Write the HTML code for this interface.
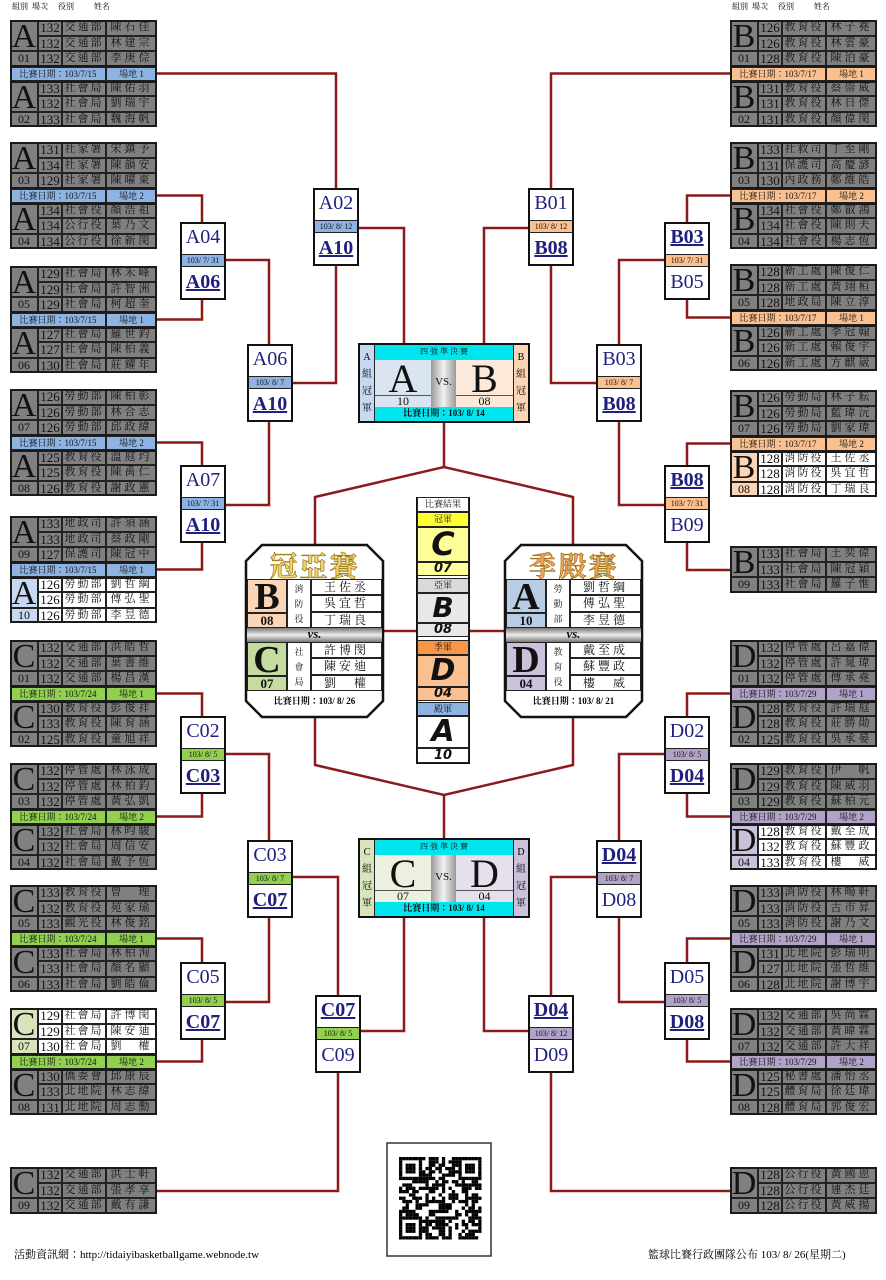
<!DOCTYPE html>
<html><head><meta charset="utf-8">
<style>
body{margin:0;background:#fff;}
#c{position:relative;width:886px;height:1280px;overflow:hidden;font-family:"Liberation Serif","Noto Serif CJK TC",serif;}
.a{position:absolute;box-sizing:border-box;}
.cl{position:absolute;box-sizing:border-box;border:1px solid #222;text-align:center;overflow:hidden;white-space:nowrap;color:#111;}
svg{position:absolute;left:0;top:0;}
</style></head><body><div id="c">
<svg width="886" height="1280" id="ln"></svg>
</div>
<script>
var C=document.getElementById('c');var R=15.5;
function d(x,y,w,h,html,st){var e=document.createElement('div');e.className='cl';e.style.cssText='left:'+x+'px;top:'+y+'px;width:'+w+'px;height:'+h+'px;'+(st||'');e.innerHTML=html;C.appendChild(e);return e;}
function raw(x,y,w,h,html,st){var e=document.createElement('div');e.className='a';e.style.cssText='left:'+x+'px;top:'+y+'px;width:'+w+'px;height:'+h+'px;'+(st||'');e.innerHTML=html;C.appendChild(e);return e;}
var COL={A:['#8db3e2','#c6d9f0'],B:['#fac090','#fbd5b5'],C:['#92d050','#d7e4bc'],D:['#b3a2c7','#ccc1da']};
function team(x,y,s,win){var p=s.split('|');var L=p[0],n=p[1];var g=win?'#fff':'#808080';var lc=win?COL[L][1]:'#808080';
 d(x,y,28,2*R,L,'background:'+lc+';font-size:34px;line-height:31px;');
 d(x,y+2*R,28,R,n,'background:'+lc+';font-size:12px;line-height:13px;');
 for(var i=0;i<3;i++){var r=p[2+i].split(',');var yy=y+i*R;
  d(x+28,yy,24,R,r[0],'background:'+g+';font-size:13px;line-height:13px;');
  d(x+52,yy,44,R,r[1],'background:'+g+';font-size:11px;line-height:13px;letter-spacing:2px;');
  d(x+96,yy,51,R,r[2],'background:'+g+';font-size:11px;line-height:13px;letter-spacing:3px;');}
 raw(x,y,147,3*R,'','border:2px solid #1a1a1a;');}
function bar(x,y,L,date,v){var c=COL[L][0];
 d(x,y,96,14,'比賽日期：'+date,'background:'+c+';font-size:9px;line-height:12px;');
 d(x+96,y,51,14,'場地 '+v,'background:'+c+';font-size:9px;line-height:12px;');}
function pair(x,y,L,date,v,t1,t2,w1,w2){team(x,y,t1,w1);bar(x,y+3*R,L,date,v);team(x,y+3*R+14,t2,w2);raw(x,y,147,6*R+14,'','border:2px solid #1a1a1a;');}
function mbox(x,y,L,top,date,bot,tw,bw){var w=46;
 var st=function(b){return 'background:#fff;border:none;font-size:20px;line-height:30px;color:#1f1f80;'+(b?'font-weight:bold;text-decoration:underline;':'');};
 d(x,y,w,32,top,st(tw));d(x,y+32,w,13,date,'background:'+COL[L][0]+';border:none;border-top:1px solid #222;border-bottom:1px solid #222;font-size:8px;line-height:11px;');
 d(x,y+45,w,33,bot,st(bw));raw(x,y,w,78,'','border:2px solid #111;');}
var lines=[];function pl(pts){lines.push(pts);}
var Lx=10,Rx=730;
var T={
A01:'A|01|132,交通部,陳石佳|132,交通部,林建宗|132,交通部,李庚倧',
A02:'A|02|133,社會局,陳佑羽|132,社會局,劉瑞宇|133,社會局,魏海帆',
A03:'A|03|131,社家署,宋鎮予|134,社家署,陳韻安|129,社家署,陳曜東',
A04:'A|04|134,社會役,顏浩祖|134,公行役,葉乃文|134,公行役,徐新閔',
A05:'A|05|129,社會局,林禾峰|129,社會局,許智洲|129,社會局,柯超奎',
A06:'A|06|127,社會局,羅世鈞|127,社會局,陳柏義|130,社會局,莊耀年',
A07:'A|07|126,勞動部,陳柏彰|126,勞動部,林合志|126,勞動部,邱政緯',
A08:'A|08|125,教育役,溫庭均|125,教育役,陳禹仁|126,教育役,謝政憲',
A09:'A|09|133,地政司,許須涵|133,地政司,蔡政剛|127,保護司,陳冠中',
A10:'A|10|126,勞動部,劉哲綱|126,勞動部,傅弘聖|126,勞動部,李昱德',
B01:'B|01|126,教育役,林子堯|126,教育役,林雲豪|128,教育役,陳泊豪',
B02:'B|02|131,教育役,蔡崇威|131,教育役,林日傑|131,教育役,顏偉閔',
B03:'B|03|133,社救司,丁至剛|131,保護司,高慶諺|130,內政務,鄭維皓',
B04:'B|04|134,社會役,鄭叡鴻|134,社會役,陳則夫|134,社會役,楊志恆',
B05:'B|05|128,新工處,陳俊仁|128,新工處,黃翊桓|128,地政局,陳立淳',
B06:'B|06|126,新工處,李冠翰|126,新工處,賴俊宇|126,新工處,方麒崴',
B07:'B|07|126,勞動局,林子耘|126,勞動局,藍瑋沅|126,勞動局,劉家瑋',
B08:'B|08|128,消防役,王佐丞|128,消防役,吳宜哲|128,消防役,丁瑞良',
B09:'B|09|133,社會局,王奕偉|133,社會局,陳冠穎|133,社會局,羅子惟',
C01:'C|01|132,交通部,洪皓哲|132,交通部,葉書維|132,交通部,楊昌漢',
C02:'C|02|130,教育役,彭俊祥|133,教育役,陳育涵|125,教育役,童旭祥',
C03:'C|03|132,停管處,林泳成|132,停管處,林柏鈞|132,停管處,黃弘凱',
C04:'C|04|132,社會局,林昀駿|132,社會局,周信安|132,社會局,戴予恆',
C05:'C|05|133,教育役,曾　理|132,教育役,苑家瑜|133,觀光役,林俊銘',
C06:'C|06|133,社會局,林柏洵|133,社會局,顏名顯|133,社會局,劉皓倫',
C07:'C|07|129,社會局,許博閔|129,社會局,陳安迪|130,社會局,劉　權',
C08:'C|08|130,僑委會,邱康辰|133,北地院,林志緯|131,北地院,周志勳',
C09:'C|09|132,交通部,洪士軒|132,交通部,張孝享|132,交通部,戴有謙',
D01:'D|01|132,停管處,呂嘉偉|132,停管處,許晁瑋|132,停管處,傅承堯',
D02:'D|02|128,教育役,許瑞庭|128,教育役,莊勝勛|125,教育役,吳承晏',
D03:'D|03|129,教育役,伊　帆|129,教育役,陳威羽|129,教育役,蘇柏元',
D04:'D|04|128,教育役,戴至成|132,教育役,蘇豐政|133,教育役,樓　威',
D05:'D|05|133,消防役,林暘軒|133,消防役,古市昇|133,消防役,謝乃文',
D06:'D|06|131,北地院,彭瑞明|127,北地院,張哲維|128,北地院,謝博宇',
D07:'D|07|132,交通部,吳尚霖|132,交通部,黃暐霖|132,交通部,許大祥',
D08:'D|08|125,秘書處,潘怡丞|125,體育局,徐廷瑋|128,體育局,郭俊宏',
D09:'D|09|128,公行役,黃國恩|128,公行役,連杰廷|128,公行役,黃威揚'};
var B=53.5;
var LA=[20,142,266,389,516],LC=[640,763,885,1008],RB=[20,142,264,390],RD=[640,763,885,1008];
pair(Lx,LA[0],'A','103/7/15',1,T.A01,T.A02);pair(Lx,LA[1],'A','103/7/15',2,T.A03,T.A04);
pair(Lx,LA[2],'A','103/7/15',1,T.A05,T.A06);pair(Lx,LA[3],'A','103/7/15',2,T.A07,T.A08);
pair(Lx,LA[4],'A','103/7/15',1,T.A09,T.A10,0,1);
pair(Lx,LC[0],'C','103/7/24',1,T.C01,T.C02);pair(Lx,LC[1],'C','103/7/24',2,T.C03,T.C04);
pair(Lx,LC[2],'C','103/7/24',1,T.C05,T.C06);pair(Lx,LC[3],'C','103/7/24',2,T.C07,T.C08,1,0);
team(Lx,1167,T.C09);
pair(Rx,RB[0],'B','103/7/17',1,T.B01,T.B02);pair(Rx,RB[1],'B','103/7/17',2,T.B03,T.B04);
pair(Rx,RB[2],'B','103/7/17',1,T.B05,T.B06);pair(Rx,RB[3],'B','103/7/17',2,T.B07,T.B08,0,1);
team(Rx,546,T.B09);
pair(Rx,RD[0],'D','103/7/29',1,T.D01,T.D02);pair(Rx,RD[1],'D','103/7/29',2,T.D03,T.D04,0,1);
pair(Rx,RD[2],'D','103/7/29',1,T.D05,T.D06);pair(Rx,RD[3],'D','103/7/29',2,T.D07,T.D08);
team(Rx,1167,T.D09);
mbox(180,222,'A','A04','103/ 7/ 31','A06',0,1);
mbox(313,188,'A','A02','103/ 8/ 12','A10',0,1);
mbox(247,344,'A','A06','103/ 8/ 7','A10',0,1);
mbox(180,465,'A','A07','103/ 7/ 31','A10',0,1);
mbox(180,716,'C','C02','103/ 8/ 5','C03',0,1);
mbox(247,840,'C','C03','103/ 8/ 7','C07',0,1);
mbox(180,962,'C','C05','103/ 8/ 5','C07',0,1);
mbox(315,995,'C','C07','103/ 8/ 5','C09',1,0);
mbox(528,188,'B','B01','103/ 8/ 12','B08',0,1);
mbox(664,222,'B','B03','103/ 7/ 31','B05',1,0);
mbox(596,344,'B','B03','103/ 8/ 7','B08',0,1);
mbox(664,465,'B','B08','103/ 7/ 31','B09',1,0);
mbox(664,716,'D','D02','103/ 8/ 5','D04',0,1);
mbox(596,840,'D','D04','103/ 8/ 7','D08',1,0);
mbox(664,962,'D','D05','103/ 8/ 5','D08',0,1);
mbox(528,995,'D','D04','103/ 8/ 12','D09',1,0);
var lx=157,rx=730;
pl([[lx,LA[0]+B],[336,LA[0]+B],[336,188]]);
pl([[lx,LA[1]+B],[202,LA[1]+B],[202,222]]);
pl([[lx,LA[2]+B],[202,LA[2]+B],[202,300]]);
pl([[226,260],[269,260],[269,344]]);
pl([[293,383],[336,383],[336,266]]);
pl([[359,228],[404,228],[404,343]]);
pl([[lx,LA[3]+B],[202,LA[3]+B],[202,465]]);
pl([[lx,LA[4]+B],[202,LA[4]+B],[202,543]]);
pl([[226,505],[269,505],[269,422]]);
pl([[lx,LC[0]+B],[202,LC[0]+B],[202,716]]);
pl([[lx,LC[1]+B],[202,LC[1]+B],[202,794]]);
pl([[226,754],[269,754],[269,840]]);
pl([[lx,LC[2]+B],[202,LC[2]+B],[202,962]]);
pl([[lx,LC[3]+B],[202,LC[3]+B],[202,1040]]);
pl([[226,1002],[269,1002],[269,918]]);
pl([[293,877],[338,877],[338,995]]);
pl([[lx,1191],[338,1191],[338,1073]]);
pl([[361,1031],[404,1031],[404,917]]);
pl([[rx,RB[0]+B],[551,RB[0]+B],[551,188]]);
pl([[528,228],[484,228],[484,343]]);
pl([[rx,RB[1]+B],[687,RB[1]+B],[687,222]]);
pl([[rx,RB[2]+B],[687,RB[2]+B],[687,300]]);
pl([[664,260],[619,260],[619,344]]);
pl([[596,383],[551,383],[551,266]]);
pl([[rx,RB[3]+B],[687,RB[3]+B],[687,465]]);
pl([[rx,570],[687,570],[687,543]]);
pl([[664,505],[619,505],[619,422]]);
pl([[rx,RD[0]+B],[687,RD[0]+B],[687,716]]);
pl([[rx,RD[1]+B],[687,RD[1]+B],[687,794]]);
pl([[664,754],[619,754],[619,840]]);
pl([[rx,RD[2]+B],[687,RD[2]+B],[687,962]]);
pl([[rx,RD[3]+B],[687,RD[3]+B],[687,1040]]);
pl([[664,1002],[619,1002],[619,918]]);
pl([[596,877],[551,877],[551,995]]);
pl([[rx,1191],[551,1191],[551,1073]]);
pl([[528,1031],[484,1031],[484,917]]);
pl([[444,422],[444,467]]);pl([[315,548],[315,497],[444,467],[573,497],[573,548]]);
pl([[315,715],[315,765],[444,795],[573,765],[573,715]]);pl([[444,795],[444,838]]);
pl([[380,631],[418,631]]);pl([[468,631],[507,631]]);
var svg=document.getElementById('ln');var s='';
lines.forEach(function(p){s+='<polyline fill="none" stroke="#8b1a1a" stroke-width="2.5" points="'+p.map(function(q){return q.join(',')}).join(' ')+'"/>';});
svg.innerHTML=s;
function semi(y,L1,n1,L2,n2,b1,b2,s1,s2){
 raw(358,y,172,80,'','background:#fff;border:2px solid #111;');
 raw(360,y+2,15,76,'<div style="font-size:10px;line-height:17px;text-align:center;padding-top:4px">'+L1+'<br>組<br>冠<br>軍</div>','background:'+s1+';border-right:1px solid #222;');
 raw(513,y+2,15,76,'<div style="font-size:10px;line-height:17px;text-align:center;padding-top:4px">'+L2+'<br>組<br>冠<br>軍</div>','background:'+s2+';border-left:1px solid #222;');
 d(375,y+2,138,15,'四 強 準 決 賽','background:#00e5ee;border:none;font-size:8px;line-height:14px;');
 d(375,y+17,56,35,L1,'background:'+b1+';border:none;font-size:40px;line-height:38px;');
 d(375,y+52,56,12,n1,'background:'+b1+';border:none;border-top:1px solid #555;font-size:12px;line-height:11px;');
 d(431,y+17,25,47,'VS.','background:linear-gradient(90deg,#999,#f2f2f2,#999);border:none;font-size:11px;line-height:45px;');
 d(456,y+17,57,35,L2,'background:'+b2+';border:none;font-size:40px;line-height:38px;');
 d(456,y+52,57,12,n2,'background:'+b2+';border:none;border-top:1px solid #555;font-size:12px;line-height:11px;');
 d(375,y+64,138,14,'比賽日期：103/ 8/ 14','background:#00e5ee;border:none;font-size:9px;line-height:13px;font-weight:bold;');}
semi(343,'A','10','B','08','#dbe5f1','#fde9d9','#c6d9f0','#fbd5b5');
semi(838,'C','07','D','04','#ebf1de','#e5e0ec','#d7e4bc','#ccc1da');
function fin(x,title,tc,L1,n1,c1,dep1,nm1,L2,n2,c2,dep2,nm2,date){var y=545,w=137,h=172,k=16;
 var e=document.createElementNS('http://www.w3.org/2000/svg','svg');e.setAttribute('width',886);e.setAttribute('height',1280);
 e.innerHTML='<polygon fill="#fff" stroke="#111" stroke-width="2.5" points="'+[[x+k,y],[x+w-k,y],[x+w,y+k],[x+w,y+h-k],[x+w-k,y+h],[x+k,y+h],[x,y+h-k],[x,y+k]].map(function(q){return q.join(',')}).join(' ')+'"/>';C.appendChild(e);
 raw(x,y+5,w,30,title,'text-align:center;font-size:28px;line-height:30px;font-weight:bold;color:'+tc+';-webkit-text-stroke:0.6px #8a6a00;letter-spacing:2px;font-family:"Noto Serif CJK TC",serif;');
 function half(yy,L,n,c,dep,nm){d(x+1,yy,40,34,L,'background:'+c+';font-size:38px;line-height:34px;font-weight:bold;');
  d(x+1,yy+34,40,15,n,'background:'+c+';font-size:13px;line-height:13px;font-weight:bold;');
  d(x+41,yy,24,49,dep.split('').join('<br>'),'font-size:9px;line-height:15px;padding-top:2px;');
  for(var i=0;i<3;i++)d(x+65,yy+i*16.3,w-66,16.3,nm[i],'font-size:12px;line-height:15px;letter-spacing:3px;');}
 half(y+34,L1,n1,c1,dep1,nm1);
 d(x+1,y+83,w-2,14,'<i>vs.</i>','background:linear-gradient(180deg,#777,#eee,#777);border:none;font-size:13px;line-height:12px;font-weight:bold;');
 half(y+97,L2,n2,c2,dep2,nm2);
 raw(x,y+148,w,16,'比賽日期：'+date,'text-align:center;font-size:9px;line-height:16px;font-weight:bold;');}
fin(246,'冠亞賽','#f5d36a','B','08','#fbd5b5','消防役',['王佐丞','吳宜哲','丁瑞良'],'C','07','#c4dca0','社會局',['許博閔','陳安迪','劉　權'],'103/ 8/ 26');
fin(505,'季殿賽','#f7a060','A','10','#b8cce4','勞動部',['劉哲綱','傅弘聖','李昱德'],'D','04','#ccc1da','教育役',['戴至成','蘇豐政','樓　威'],'103/ 8/ 21');
(function(){var x=416,w=54;raw(x,497,w,267,'','background:#fff;border:2px solid #111;');
 var rows=[['比賽結果',497,15,'#fff','9px'],['冠軍',512,15,'#ffff33','9px'],['C',527,35,'#ffff99','32px'],['07',562,14,'#ffff99','13px'],
 ['亞軍',578,15,'#d9d9d9','9px'],['B',593,30,'#e8e8e8','28px'],['08',623,14,'#e8e8e8','13px'],
 ['季軍',640,15,'#f79646','9px'],['D',655,32,'#fbc090','30px'],['04',687,14,'#fbc090','13px'],
 ['殿軍',702,14,'#8db3e2','9px'],['A',716,32,'#fff','30px'],['10',748,15,'#fff','13px']];
 rows.forEach(function(r){var big=r[4]!='9px';d(x+1,r[1],w-2,r[2],r[0],'background:'+r[3]+';font-size:'+r[4]+';line-height:'+(r[2]-2)+'px;'+(big?'font-style:italic;font-weight:bold;font-family:"DejaVu Sans",sans-serif;':''));});})();
raw(12,0,160,14,'組別&nbsp;&nbsp;場次&nbsp;&nbsp;&nbsp;&nbsp;&nbsp;役別&nbsp;&nbsp;&nbsp;&nbsp;&nbsp;&nbsp;&nbsp;&nbsp;&nbsp;&nbsp;姓名','font-size:8px;line-height:14px;white-space:nowrap;');
raw(732,0,160,14,'組別&nbsp;&nbsp;場次&nbsp;&nbsp;&nbsp;&nbsp;&nbsp;役別&nbsp;&nbsp;&nbsp;&nbsp;&nbsp;&nbsp;&nbsp;&nbsp;&nbsp;&nbsp;姓名','font-size:8px;line-height:14px;white-space:nowrap;');
raw(14,1247,300,16,'活動資訊網：http://tidaiyibasketballgame.webnode.tw','font-size:11px;line-height:16px;white-space:nowrap;');
raw(648,1247,240,16,'籃球比賽行政團隊公布 103/ 8/ 26(星期二)','font-size:11px;line-height:16px;white-space:nowrap;');
(function(){var x0=399,y0=1154,n=25,m=3.3;var q='<svg width="886" height="1280"><rect x="387" y="1143" width="104" height="113" fill="#fff" stroke="#333" stroke-width="1.5"/>';
 var seed=7;function rnd(){seed=(seed*9301+49297)%233280;return seed/233280;}
 function fp(i,j){return (i<7&&j<7)||(i<7&&j>=n-7)||(i>=n-7&&j<7);}
 for(var i=0;i<n;i++)for(var j=0;j<n;j++){var on;
  if(fp(i,j)){var a=i<7?i:i-(n-7),b=j<7?j:j-(n-7);on=(a==0||a==6||b==0||b==6)||(a>=2&&a<=4&&b>=2&&b<=4);}
  else on=rnd()<0.5;
  if(on)q+='<rect x="'+(x0+j*m)+'" y="'+(y0+i*m+3)+'" width="'+m+'" height="'+m+'" fill="#000"/>';}
 q+='</svg>';var e=document.createElement('div');e.innerHTML=q;C.appendChild(e.firstChild);})();
</script>
</body></html>
